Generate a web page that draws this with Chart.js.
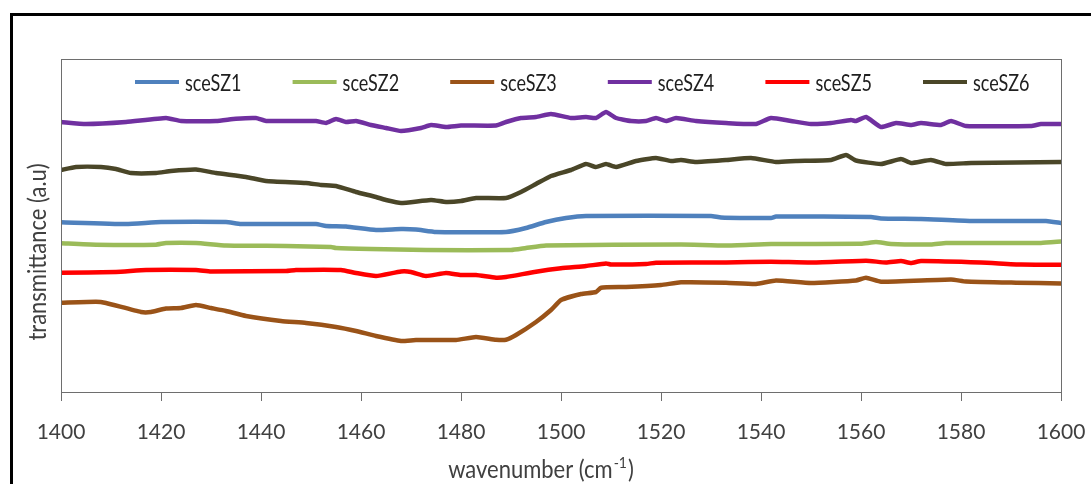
<!DOCTYPE html>
<html>
<head>
<meta charset="utf-8">
<script src="https://cdn.jsdelivr.net/npm/chart.js@4/dist/chart.umd.min.js"></script>
<style>
  html, body { margin: 0; padding: 0; background: #fff; overflow: hidden; }
  #wrap { position: relative; width: 1091px; height: 484px; overflow: hidden; }
  #frame { position: absolute; left: 10px; top: 13px; width: 1120px; height: 520px;
           border: 3.5px solid #000; box-sizing: border-box; }
  #ftir { position: absolute; left: 0; top: 0; }
</style>
</head>
<body>
<div id="wrap">
  <div id="frame"></div>
  <canvas id="ftir" width="1091" height="484"></canvas>
</div>
<script>
// series names, colours and x-axis ticks
const names = ["sceSZ1", "sceSZ2", "sceSZ3", "sceSZ4", "sceSZ5", "sceSZ6"];
const colors = ["#4F81BD", "#9BBB59", "#9A5318", "#7030A0", "#FF0000", "#4A4628"];
const xTicks = [1400, 1420, 1440, 1460, 1480, 1500, 1520, 1540, 1560, 1580, 1600];

// spectra: wavenumber (cm-1) and transmittance (a.u., offset per sample)
const wnSZ1 = [1400, 1413, 1420, 1433, 1436, 1451, 1453, 1457, 1463, 1468, 1471, 1475, 1489, 1493, 1497, 1501, 1505, 1530, 1532, 1538, 1542, 1543, 1562, 1564, 1572, 1582, 1597, 1600];
const tSZ1 = [169.7, 168, 170, 170, 168, 168, 166, 165.5, 162, 163, 162.5, 160, 160, 164, 170, 174, 176, 176, 174.5, 174, 174, 175.5, 175, 173.5, 173, 171, 171, 169];

const wnSZ2 = [1400, 1407, 1419, 1421, 1427, 1433, 1445, 1454, 1455, 1462, 1473, 1490, 1493, 1497, 1524, 1533, 1542, 1560, 1563, 1566, 1574, 1577, 1596, 1600];
const tSZ2 = [148.7, 147.3, 147.3, 149, 149, 146.5, 146, 145, 144, 143, 142, 142, 144, 146.5, 147.5, 146.5, 148, 148.3, 150, 148, 147.5, 149, 149, 150.5];

const wnSZ3 = [1400, 1407, 1409, 1416, 1418, 1421, 1424, 1427, 1430, 1433, 1437, 1444, 1449, 1455, 1459, 1463, 1468, 1471, 1479, 1483, 1487, 1489, 1491, 1495, 1498, 1500, 1504, 1507, 1508, 1513, 1520, 1524, 1533, 1539, 1543, 1550, 1559, 1561, 1564, 1578, 1581, 1591, 1600];
const tSZ3 = [89.3, 90.3, 89, 80, 80, 83.5, 84, 87, 84, 81, 76, 71, 69, 65, 61, 56, 51, 52, 52, 55, 52.3, 52.3, 57, 70, 82, 92, 98, 100, 104.3, 105, 107, 109.7, 109.3, 108, 111.5, 109, 111.5, 114.3, 110.3, 112.5, 110.5, 109.3, 108.5];

const wnSZ4 = [1400, 1405, 1413, 1421, 1424, 1431, 1435, 1439, 1441, 1451, 1453, 1455, 1457, 1459, 1462, 1465, 1468, 1472, 1474, 1477, 1480, 1487, 1489, 1492, 1495, 1498, 1502, 1505, 1507, 1509, 1511, 1514, 1517, 1519, 1521, 1523, 1527, 1533, 1539, 1542, 1546, 1550, 1554, 1558, 1559, 1561, 1564, 1567, 1570, 1572, 1576, 1578, 1581, 1594, 1596, 1600];
const tSZ4 = [270, 268, 270, 274, 271, 271, 273.3, 274, 271, 271, 269, 273, 270, 271, 267, 264, 261, 264, 267, 265, 266.5, 266.5, 270, 274, 275, 278, 274, 275, 274, 280, 274, 271, 271, 274, 271, 274, 271, 269, 268, 274, 271, 268, 269, 272, 271, 275, 265, 269, 267, 269, 267, 271, 266, 266, 268, 268];

const wnSZ5 = [1400, 1411, 1417, 1427, 1430, 1445, 1447, 1456, 1459, 1463, 1468, 1470, 1473, 1477, 1480, 1483, 1487, 1489, 1495, 1500, 1505, 1509, 1510, 1517, 1519, 1533, 1542, 1550, 1561, 1565, 1568, 1570, 1572, 1584, 1592, 1600];
const tSZ5 = [119.3, 120, 122, 122, 120.5, 121, 122, 122, 119, 116, 120.5, 120, 116, 119, 117, 117, 114.3, 115, 120.3, 123.7, 126, 128.5, 127.5, 128, 129.3, 129.5, 130.3, 129.5, 131.3, 129.5, 131, 129, 131, 129.5, 127.5, 127.3];

const wnSZ6 = [1400, 1403, 1408, 1411, 1414, 1419, 1422, 1427, 1431, 1437, 1441, 1449, 1452, 1455, 1459, 1463, 1465, 1468, 1474, 1477, 1480, 1483, 1489, 1492, 1495, 1498, 1502, 1505, 1507, 1509, 1511, 1515, 1519, 1522, 1524, 1527, 1533, 1538, 1543, 1547, 1554, 1557, 1559, 1564, 1568, 1570, 1574, 1577, 1582, 1600];
const tSZ6 = [222, 225, 225, 223, 219, 219, 221, 222.5, 219, 215, 211, 209, 207, 206, 200, 195, 192, 189, 192, 190, 191, 194, 194, 200, 208, 216, 222, 228, 225, 228, 225, 231, 234, 231, 232, 230, 232, 234, 230, 231, 232, 237, 231.5, 228, 233, 229, 232, 228, 229, 230];

const wnAll = [wnSZ1, wnSZ2, wnSZ3, wnSZ4, wnSZ5, wnSZ6];
const tAll = [tSZ1, tSZ2, tSZ3, tSZ4, tSZ5, tSZ6];

const FONT = "Lato, 'Open Sans', sans-serif";
const TEXT = "#404040";

// text drawn a little taller than wide, like the original figure font
function tallText(ctx, str, x, y, size, stretch, align) {
  ctx.save();
  ctx.translate(x, y);
  ctx.scale(1, stretch);
  ctx.font = size + "px " + FONT;
  ctx.textAlign = align || "left";
  ctx.textBaseline = "middle";
  ctx.fillText(str, 0, 0);
  ctx.restore();
}

const decorPlugin = {
  id: "decor",
  afterDraw(chart) {
    const ctx = chart.ctx;
    const a = chart.chartArea;

    // plot frame
    ctx.save();
    ctx.strokeStyle = "#6e6e6e";
    ctx.lineWidth = 1;
    ctx.strokeRect(Math.round(a.left) + 0.5, Math.round(a.top) + 0.5,
                   Math.round(a.right - a.left), Math.round(a.bottom - a.top));
    ctx.restore();

    // legend inside the plot, one row
    const legendY = a.top + 23;
    const step = (923 - 135) / 5;
    chart.data.datasets.forEach((ds, i) => {
      const x0 = 135 + step * i;
      ctx.save();
      ctx.strokeStyle = ds.borderColor;
      ctx.lineWidth = 4;
      ctx.beginPath();
      ctx.moveTo(x0, legendY);
      ctx.lineTo(x0 + 44, legendY);
      ctx.stroke();
      ctx.fillStyle = "#202020";
      tallText(ctx, ds.label, x0 + 50, legendY + 2, 18, 1.25);
      ctx.restore();
    });

    // y title
    ctx.save();
    ctx.fillStyle = TEXT;
    ctx.translate(38, 252);
    ctx.rotate(-Math.PI / 2);
    ctx.scale(1, 1.12);
    ctx.font = "22px " + FONT;
    ctx.textAlign = "center";
    ctx.textBaseline = "middle";
    ctx.fillText("transmittance (a.u)", 0, 0);
    ctx.restore();

    // x title with superscript
    ctx.save();
    ctx.fillStyle = TEXT;
    ctx.font = "22px " + FONT;
    const main = "wavenumber (cm";
    const sup = "-1";
    const close = ")";
    const wMain = ctx.measureText(main).width;
    const wClose = ctx.measureText(close).width;
    ctx.font = "14px " + FONT;
    const wSup = ctx.measureText(sup).width;
    const xStart = 541 - (wMain + wSup + wClose + 2) / 2;
    const yTitle = 470;
    tallText(ctx, main, xStart, yTitle, 22, 1.12);
    tallText(ctx, sup, xStart + wMain + 1, yTitle - 7, 14, 1.12);
    tallText(ctx, close, xStart + wMain + wSup + 2, yTitle, 22, 1.12);
    ctx.restore();
  }
};

const datasets = names.map((name, i) => ({
  label: name,
  data: wnAll[i].map((w, k) => ({ x: w, y: tAll[i][k] })),
  borderColor: colors[i],
  backgroundColor: colors[i],
  borderWidth: 4.5,
  pointRadius: 0,
  tension: 0.15,
  borderJoinStyle: "round",
  borderCapStyle: "round",
  fill: false
}));

new Chart(document.getElementById("ftir"), {
  type: "line",
  data: { datasets: datasets },
  plugins: [decorPlugin],
  options: {
    responsive: false,
    animation: false,
    layout: { padding: { top: 59, right: 30, left: 0, bottom: 0 } },
    plugins: {
      legend: { display: false },
      tooltip: { enabled: false }
    },
    scales: {
      x: {
        type: "linear",
        min: 1400,
        max: 1600,
        afterBuildTicks: (scale) => { scale.ticks = xTicks.map(v => ({ value: v })); },
        afterFit: (scale) => {
          scale.height = 92;
          scale.paddingLeft = 0;
          scale.paddingRight = 0;
        },
        grid: { drawOnChartArea: false, drawTicks: true, tickLength: 9, color: "#6e6e6e" },
        border: { display: false },
        ticks: {
          color: TEXT,
          font: { family: FONT, size: 21 },
          padding: 19,
          maxRotation: 0,
          autoSkip: false,
          callback: (v) => String(v)
        }
      },
      y: {
        min: 0,
        max: 333,
        afterFit: (scale) => { scale.width = 61; },
        grid: { display: false },
        border: { display: false },
        ticks: { display: false }
      }
    }
  }
});
</script>
</body>
</html>
